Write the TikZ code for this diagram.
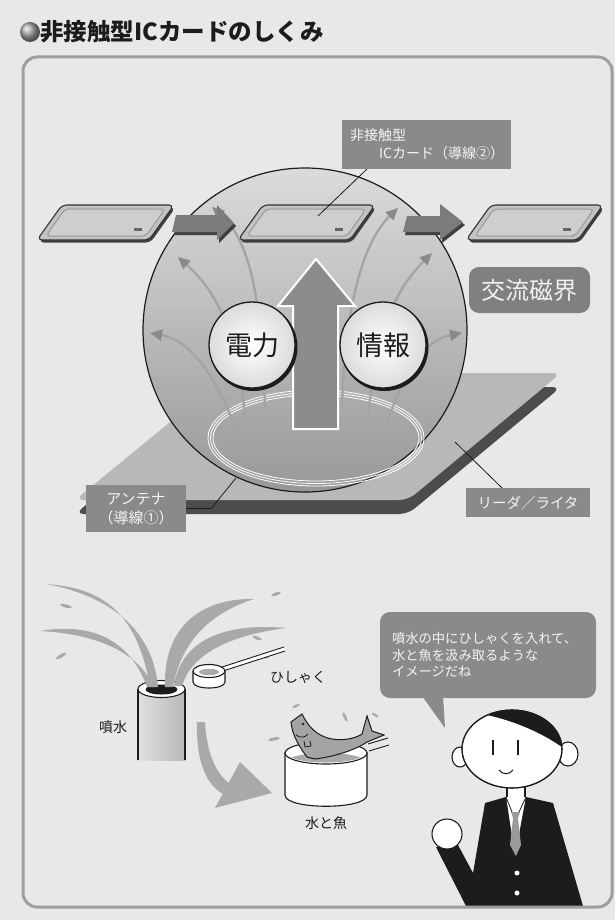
\documentclass[tikz,border=0pt]{standalone}
\usepackage{fontspec}
\newfontfamily\jp{Noto Sans CJK JP}
\usetikzlibrary{arrows.meta,calc}

\definecolor{paper}{HTML}{E8E8E6}
\definecolor{framecol}{HTML}{9E9E9E}
\definecolor{tagfill}{HTML}{8A8A8A}
\definecolor{tagtext}{HTML}{F4F4F4}
\definecolor{sphtop}{HTML}{DADADA}
\definecolor{sphbot}{HTML}{989898}
\definecolor{platetop}{HTML}{B8B8B8}
\definecolor{plateside}{HTML}{4C4C4C}
\definecolor{fieldline}{HTML}{A4A4A4}
\definecolor{fieldhead}{HTML}{8A8A8A}
\definecolor{cardfill}{HTML}{C2C2C2}
\definecolor{cardinner}{HTML}{CECECE}
\definecolor{blockarrow}{HTML}{7C7C7C}
\definecolor{waterg}{HTML}{A9A9A9}
\definecolor{fishg}{HTML}{A4A4A4}
\definecolor{tiegray}{HTML}{9A9A9A}
\definecolor{ink}{HTML}{1C1C1C}

\newcommand\fs[2]{\fontsize{#1}{#2}\selectfont}

\begin{document}
\begin{tikzpicture}[x=1pt,y=-1pt,
  tag/.style={fill=tagfill, text=tagtext, inner sep=0pt, font=\jp\fs{14}{18}},
  caption/.style={text=ink, inner sep=0pt, font=\jp\fs{14}{17}},
  disc/.style={circle, draw=ink, line width=1.3pt, minimum size=86pt, inner sep=0pt,
     shade, inner color=white, outer color=black!14, font=\jp\fs{27}{30}, text=ink},
  field/.style={draw=fieldline, line width=2.3pt,
     -{Triangle[length=12pt,width=11pt,color=fieldhead]}},
  jet/.style={fill=waterg},
  outline/.style={draw=ink, line width=1.1pt},
  leader/.style={draw=ink, line width=0.8pt},
  icard/.pic={
    \fill[black!75, rounded corners=5pt] (1.5,2.5) -- (26.5,-32.5) -- (138.5,-32.5) -- (113.5,2.5) -- cycle;
    \filldraw[fill=cardfill, draw=black!80, line width=1.1pt, rounded corners=5pt]
      (0,0) -- (25,-35) -- (137,-35) -- (112,0) -- cycle;
    \filldraw[fill=cardinner, draw=black!40, line width=1pt, rounded corners=4pt]
      (9,-4) -- (28,-31) -- (128,-31) -- (109,-4) -- cycle;
    \fill[black!60] (97,-12) rectangle (105,-9);
  }
]
\useasboundingbox (0,0) rectangle (615,920);
\fill[paper] (0,0) rectangle (615,920);

% heading
\shade[ball color=black!35] (30,32) circle (10);
\node[anchor=west, inner sep=0pt, font=\jp\bfseries\fs{23.5}{26}, text=ink] (title) at (40,32) {非接触型ICカードのしくみ};

% reader / writer plate
\fill[plateside, rounded corners=9pt] (230,387) -- (561,387) -- (408,514) -- (75,514) -- cycle;
\fill[platetop, rounded corners=9pt] (230,373) -- (561,373) -- (408,500) -- (75,500) -- cycle;

% alternating magnetic field sphere: light at the top, darker toward the plate
\begin{scope}
  \clip (305,330) circle (162);
  \foreach \i in {0,...,32} {
    \pgfmathsetmacro\p{100-\i*3.1}
    \fill[sphtop!\p!sphbot] (140,{166+\i*10}) rectangle (470,{177+\i*10});
  }
\end{scope}
\draw[ink, line width=1.2pt] (305,330) circle (162);

% antenna coil (conductor 1)
\foreach \d in {0,2.5,5}
  \draw[white, line width=0.8pt] (316,438) ellipse [x radius=108-\d, y radius=48-\d];

% field lines
\draw[field] (235,427) .. controls (215,375) and (190,340) .. (150,333);
\draw[field] (245,418) .. controls (238,330) and (215,290) .. (178,257);
\draw[field] (265,408) .. controls (262,300) and (250,240) .. (212,207);
\draw[field] (387,423) .. controls (405,370) and (425,340) .. (462,333);
\draw[field] (368,417) .. controls (378,320) and (400,285) .. (432,253);
\draw[field] (342,408) .. controls (345,300) and (365,240) .. (398,208);

% upward transfer arrow
\filldraw[fill=black!45, draw=white, line width=2pt]
  (293,429) -- (293,306) -- (278,306) -- (316,259) -- (355,306) -- (338,306) -- (338,429) -- cycle;

% power / data discs
\fill[ink] (253.5,347) circle (44);
\fill[ink] (384.5,347) circle (44);
\node[disc] (power) at (252,345) {電力};
\node[disc] (data) at (383,345) {情報};

% IC cards moving across the field
\pic at (37,240) {icard};
\pic at (238,240) {icard};
\pic at (466,240) {icard};

% motion arrows
\fill[black!75] (174,235) -- (178,218) -- (219,218) -- (219,208) -- (236,226) -- (219,243) -- (219,235) -- cycle;
\fill[blockarrow] (172,232) -- (176,215) -- (217,215) -- (217,205) -- (234,223) -- (217,240) -- (217,232) -- cycle;
\fill[black!75] (405,235) -- (409,219) -- (442,219) -- (442,207) -- (465,225) -- (442,243) -- (442,235) -- cycle;
\fill[blockarrow] (403,232) -- (407,216) -- (440,216) -- (440,204) -- (463,222) -- (440,240) -- (440,232) -- cycle;

% labels and leaders
\node[tag, minimum width=169pt, minimum height=49pt, text width=153pt, align=left] (cardtag)
  at (426.5,144.5) {非接触型\\\hspace*{29pt}ICカード（導線②）};
\coordinate (cardpt) at (318,216);
\draw[leader] ($(cardtag.south west)+(25,0)$) -- (cardpt);

\node[tag, rounded corners=10pt, fill=black!50, minimum width=121pt, minimum height=46pt,
  font=\jp\fs{24}{26}, text=black!6] (acfield) at (529.5,290) {交流磁界};

\node[tag, minimum width=100pt, minimum height=47pt, align=center, font=\jp\fs{15}{19}] (anttag)
  at (136,508.5) {アンテナ\\（導線①）};
\coordinate (antpt) at (236,478);
\draw[leader] (anttag.east) -- ++(25,0) -- (antpt);

\node[tag, minimum width=124pt, minimum height=29pt, font=\jp\fs{14.5}{17}] (readtag)
  at (528,502.5) {リーダ／ライタ};
\coordinate (readpt) at (455,442);
\draw[leader] ($(readtag.north west)+(36,0)$) -- (readpt);

% fountain pipe
\shade[left color=black!12, right color=black!28] (138,689) rectangle (185,760);
\draw[outline] (138,689) -- (138,760);
\draw[outline] (185,689) -- (185,760);
\filldraw[fill=white, outline] (161.5,689) ellipse [x radius=23.5, y radius=8.5];
\fill[ink] (161.5,689.5) ellipse [x radius=16, y radius=5];

% water jets
\fill[jet] (150,687) .. controls (138,618) and (108,588) .. (46,584) .. controls (122,598) and (154,640) .. (158,687) -- cycle;
\fill[jet] (147,687) .. controls (130,640) and (92,622) .. (40,631) .. controls (97,634) and (138,652) .. (154,687) -- cycle;
\fill[jet] (165,687) .. controls (163,628) and (200,598) .. (254,599) .. controls (210,613) and (181,642) .. (173,687) -- cycle;
\fill[jet] (174,686) .. controls (180,643) and (220,622) .. (286,628) .. controls (225,636) and (191,656) .. (182,686) -- cycle;
\fill[jet, rotate around={-15:(66,606)}] (66,606) ellipse [x radius=6, y radius=1.6];
\fill[jet, rotate around={30:(61,656)}] (61,656) ellipse [x radius=6, y radius=1.6];
\fill[jet, rotate around={20:(276,594)}] (276,594) ellipse [x radius=5, y radius=1.6];
\fill[jet, rotate around={-20:(257,638)}] (257,638) ellipse [x radius=5, y radius=1.6];
\fill[jet, rotate around={40:(268,656)}] (268,656) ellipse [x radius=4, y radius=1.5];

% ladle
\fill[white] (222,667) -- (284,647) -- (285,651) -- (223,671) -- cycle;
\draw[ink, line width=0.9pt] (222,667) -- (284,647);
\draw[ink, line width=0.9pt] (223,671) -- (285,651);
\filldraw[fill=white, outline] (193,671) -- (193,682) .. controls (193,690) and (225,690) .. (225,682) -- (225,671);
\filldraw[fill=white, outline] (209,671) ellipse [x radius=16, y radius=6.5];
\fill[waterg] (209,672) ellipse [x radius=10, y radius=3.2];

% curved arrow to the bucket
\fill[waterg] (197,722) .. controls (196,765) and (208,790) .. (230,797) -- (234,786) .. controls (218,778) and (207,757) .. (205,722) -- cycle;
\fill[waterg] (240,762) -- (272,793) -- (215,808) -- cycle;

% bucket with water and fish
\filldraw[fill=white, outline] (285,753) -- (285,795) .. controls (285,810) and (367,810) .. (367,795) -- (367,753) -- cycle;
\filldraw[fill=white, outline] (326,753) ellipse [x radius=41, y radius=11];
\begin{scope}
  \clip (326,753) ellipse [x radius=39.5, y radius=9.5];
  \fill[waterg] (326,762) ellipse [x radius=40, y radius=9];
\end{scope}
\filldraw[fill=fishg, draw=ink, line width=1pt]
  (307,757) .. controls (300,748) and (292,735) .. (291,722)
  -- (302,714)
  .. controls (308,726) and (316,736) .. (332,739)
  .. controls (345,741) and (356,738) .. (362,734)
  -- (367,716) -- (372,731) -- (384,735) -- (367,742)
  .. controls (352,752) and (330,757) .. (315,759) -- cycle;
\fill[ink] (303,724) circle (1.3);
\draw[ink, line width=0.8pt] (296,735) .. controls (300,738) and (305,738) .. (308,734);
\draw[ink, line width=0.8pt] (304,741) -- (305,747) -- (311,746) -- (310,741);
\fill[jet, rotate around={25:(296,706)}] (296,706) ellipse [x radius=4, y radius=1.3];
\fill[jet, rotate around={-65:(345,717)}] (345,717) ellipse [x radius=5, y radius=1.5];
\fill[jet, rotate around={-30:(375,715)}] (375,715) ellipse [x radius=4, y radius=1.3];
\fill[jet, rotate around={10:(274,739)}] (274,739) ellipse [x radius=6, y radius=1.6];
\draw[ink, line width=0.9pt] (368,744) -- (388,738);
\draw[ink, line width=0.9pt] (369,751) -- (389,745);

\node[caption] (fountainlbl) at (113,727) {噴水};
\node[caption] (ladlelbl) at (298,677) {ひしゃく};
\node[caption] (bucketlbl) at (326,823) {水と魚};

% speech bubble
\fill[tagfill] (422,696) -- (445,728) -- (443,696) -- cycle;
\node[tag, rounded corners=10pt, minimum width=216pt, minimum height=86pt, text width=192pt,
  align=left, font=\jp\fs{13.3}{16.5}] (bubble) at (488,655)
  {噴水の中にひしゃくを入れて、\\水と魚を汲み取るような\\イメージだね};

% presenter
\filldraw[fill=white, outline] (460,757) ellipse [x radius=8, y radius=10];
\filldraw[fill=white, outline] (568,754) ellipse [x radius=10, y radius=12];
\filldraw[fill=white, outline] (507,786) rectangle (525,800);
\filldraw[fill=white, outline] (512,749) ellipse [x radius=50, y radius=39];
\begin{scope}
  \clip (512,749) ellipse [x radius=50, y radius=39];
  \fill[ink] (461,747) .. controls (466,730) and (474,716) .. (487,715)
    .. controls (515,721) and (545,734) .. (566,750) -- (566,700) -- (458,700) -- cycle;
\end{scope}
\draw[ink, line width=1.1pt] (512,749) ellipse [x radius=50, y radius=39];
\draw[ink, line width=1.5pt] (493,740) -- (493,755);
\draw[ink, line width=1.5pt] (518,740) -- (518,755);
\draw[ink, line width=1pt] (499,770) .. controls (503,775) and (509,775) .. (513,770);
\fill[white] (506,797) -- (526,797) -- (515,856) -- cycle;
\fill[ink] (485,803) -- (506,797) -- (515,856) -- (526,797) -- (553,803) -- (583,906)
  -- (466,906) -- (436,847) -- (458,845) -- (473,873) -- cycle;
\draw[ink, line width=0.8pt] (506,797) -- (512,812);
\draw[ink, line width=0.8pt] (526,797) -- (519,812);
\fill[tiegray] (511,812) -- (520,812) -- (518,818) -- (513,818) -- cycle;
\fill[tiegray] (513,818) -- (518,818) -- (521,845) -- (516,856) -- (510,845) -- cycle;
\fill[white] (517,873) circle (2.5);
\fill[white] (517,893) circle (2.5);
\filldraw[fill=white, outline] (447,834) circle (15);

% panel frame
\draw[framecol, line width=3pt, rounded corners=14pt] (23,57) rectangle (612,907);
\end{tikzpicture}
\end{document}
